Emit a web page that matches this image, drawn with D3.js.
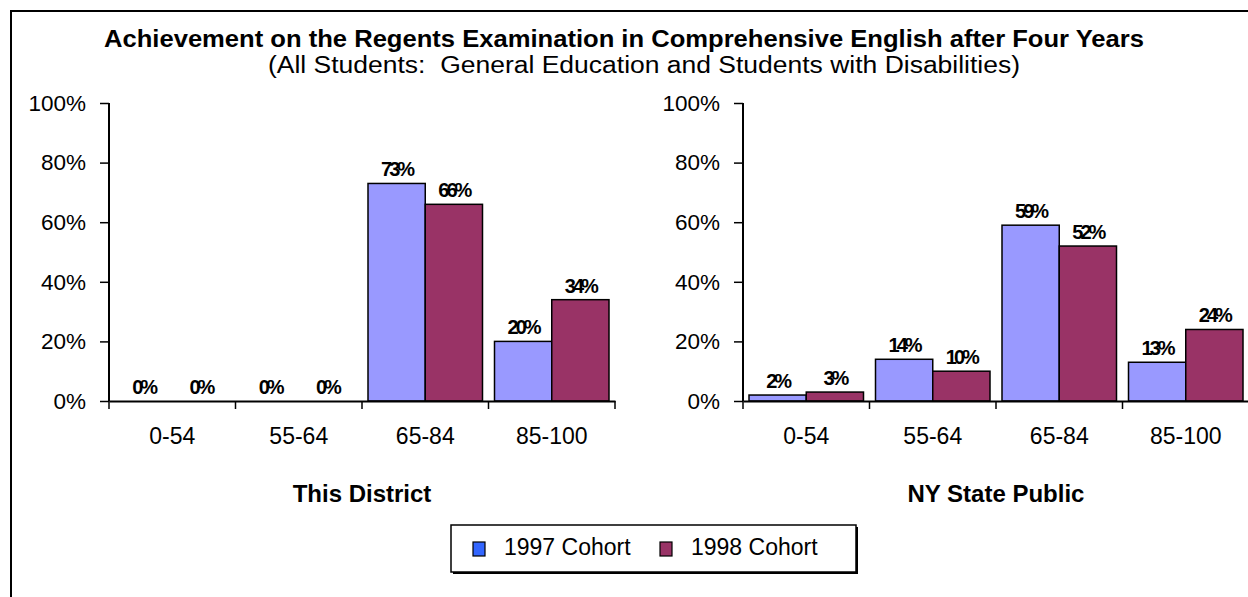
<!DOCTYPE html>
<html>
<head>
<meta charset="utf-8">
<script src="https://cdnjs.cloudflare.com/ajax/libs/d3/7.8.5/d3.min.js"></script>
<style>
  body { margin: 0; background: #fff; }
  svg text { font-family: Arial, "Liberation Sans", sans-serif; fill: #000; }
</style>
</head>
<body>
<svg id="chart" width="1248" height="597"></svg>
<script>
// data
var categories = ["0-54", "55-64", "65-84", "85-100"];
var cohorts = ["1997 Cohort", "1998 Cohort"];
var district1997 = [0, 0, 73, 20];
var district1998 = [0, 0, 66, 34];
var state1997 = [2, 14, 59, 13];
var state1998 = [3, 10, 52, 24];
var yTicks = [0, 20, 40, 60, 80, 100];

var barColors = ["#9999ff", "#993366"];
var swatchColors = ["#3366ff", "#993366"];

var svg = d3.select("#chart");

// outer frame (runs off the right and bottom edge)
svg.append("rect")
  .attr("x", 11).attr("y", 11)
  .attr("width", 1260).attr("height", 620)
  .attr("fill", "none").attr("stroke", "#000").attr("stroke-width", 2);

svg.append("text")
  .attr("x", 624).attr("y", 47)
  .attr("text-anchor", "middle")
  .attr("textLength", 1040).attr("lengthAdjust", "spacingAndGlyphs")
  .style("font-size", "23px").style("font-weight", "bold")
  .text("Achievement on the Regents Examination in Comprehensive English after Four Years");

svg.append("text")
  .attr("x", 644).attr("y", 73)
  .attr("text-anchor", "middle")
  .attr("textLength", 752).attr("lengthAdjust", "spacingAndGlyphs")
  .style("font-size", "23px").style("white-space", "pre")
  .text("(All Students:  General Education and Students with Disabilities)");

var y = d3.scaleLinear().domain([0, 100]).range([401, 103]);

function drawPanel(left, right, title, s1, s2) {
  var x = d3.scaleBand().domain(categories).range([left, right]);
  var x1 = d3.scaleBand().domain(cohorts).range([6, x.bandwidth() - 6]);
  var g = svg.append("g");

  // y axis
  var ya = g.append("g")
    .attr("transform", "translate(" + left + ",0)")
    .call(d3.axisLeft(y).tickValues(yTicks).tickSize(9).tickPadding(14)
      .tickFormat(function(d){ return d + "%"; }));
  ya.select(".domain").attr("stroke", "#000").attr("stroke-width", 2)
    .attr("d", "M0," + y(100) + "V" + y(0));
  ya.selectAll(".tick line").attr("stroke", "#000").attr("stroke-width", 1.5);
  ya.selectAll(".tick text").style("font-size", "22.5px").attr("font-family", null);

  // bars
  var rows = categories.map(function(c, i){ return {cat: c, vals: [s1[i], s2[i]]}; });
  var grp = g.selectAll(".grp").data(rows).enter().append("g")
    .attr("transform", function(d){ return "translate(" + x(d.cat) + ",0)"; });

  grp.selectAll("rect")
    .data(function(d){ return d.vals.map(function(v, j){ return {k: cohorts[j], v: v, j: j}; }); })
    .enter().append("rect")
    .attr("x", function(d){ return x1(d.k); })
    .attr("y", function(d){ return y(d.v); })
    .attr("width", x1.bandwidth())
    .attr("height", function(d){ return y(0) - y(d.v); })
    .attr("fill", function(d){ return barColors[d.j]; })
    .attr("stroke", "#000").attr("stroke-width", 1.5);

  grp.selectAll(".lbl")
    .data(function(d){ return d.vals.map(function(v, j){ return {k: cohorts[j], v: v}; }); })
    .enter().append("text")
    .attr("x", function(d){ return x1(d.k) + x1.bandwidth() / 2; })
    .attr("y", function(d){ return y(d.v) - 7; })
    .attr("text-anchor", "middle")
    .style("font-size", "20px").style("font-weight", "bold")
    .style("letter-spacing", "-3px")
    .text(function(d){ return d.v + "%"; });

  // x axis
  var xa = g.append("g")
    .attr("transform", "translate(0," + y(0) + ")")
    .call(d3.axisBottom(x).tickSize(0).tickPadding(27));
  xa.select(".domain").attr("stroke", "#000").attr("stroke-width", 2);
  xa.selectAll(".tick text").style("font-size", "23px").attr("font-family", null);
  var edges = categories.map(function(c){ return x(c); }).concat([right]);
  xa.selectAll(".edge").data(edges).enter().append("line")
    .attr("x1", function(d){ return d; }).attr("x2", function(d){ return d; })
    .attr("y1", 0).attr("y2", 8)
    .attr("stroke", "#000").attr("stroke-width", 1.5);

  svg.append("text")
    .attr("x", (left + right) / 2).attr("y", 502)
    .attr("text-anchor", "middle")
    .style("font-size", "24px").style("font-weight", "bold")
    .text(title);
}

drawPanel(109, 615, "This District", district1997, district1998);
drawPanel(743, 1249, "NY State Public", state1997, state1998);

// legend
var lg = svg.append("g");
lg.append("rect")
  .attr("x", 453).attr("y", 527).attr("width", 405).attr("height", 47)
  .attr("fill", "#000");
lg.append("rect")
  .attr("x", 451).attr("y", 525).attr("width", 405).attr("height", 47)
  .attr("fill", "#fff").attr("stroke", "#000").attr("stroke-width", 1.5);
var items = lg.selectAll(".item").data(cohorts).enter().append("g")
  .attr("transform", function(d, i){ return "translate(" + (i === 0 ? 473 : 660) + ",0)"; });
items.append("rect")
  .attr("x", 0).attr("y", 542).attr("width", 12).attr("height", 14)
  .attr("fill", function(d, i){ return swatchColors[i]; })
  .attr("stroke", "#000").attr("stroke-width", 1.2);
items.append("text")
  .attr("x", 31).attr("y", 555)
  .style("font-size", "23px")
  .text(function(d){ return d; });
</script>
</body>
</html>
